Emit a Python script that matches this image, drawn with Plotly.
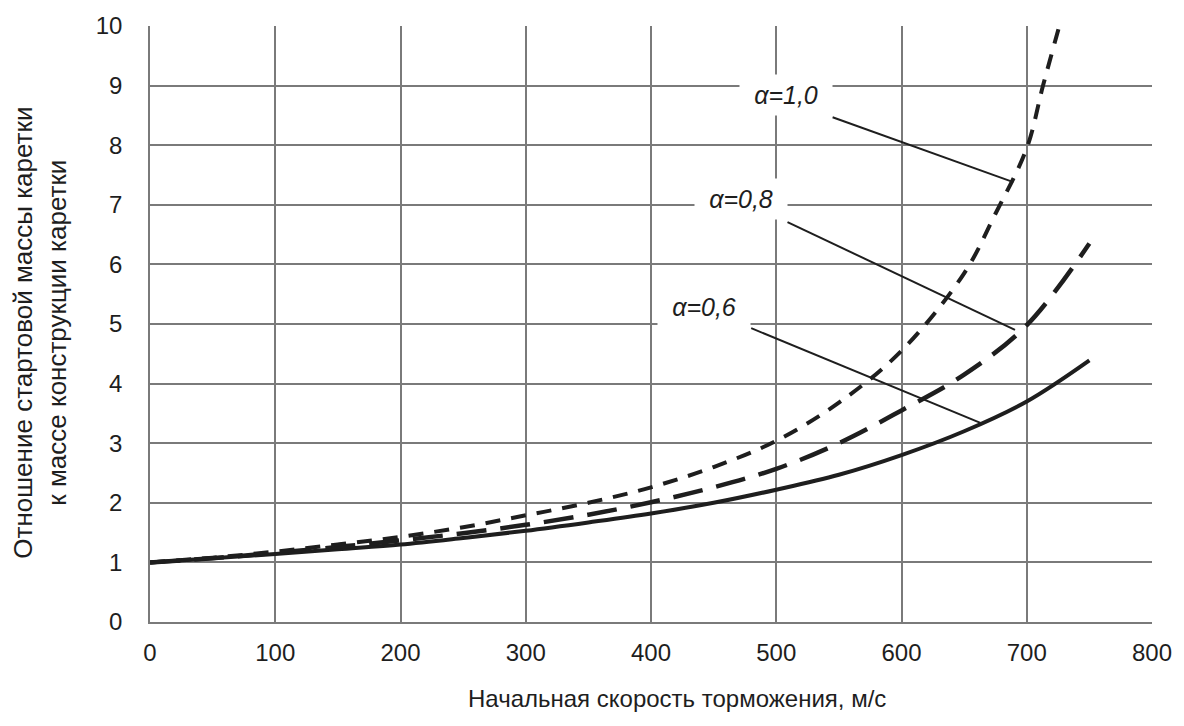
import plotly.graph_objects as go

# Initial braking speed, m/s
speed_06 = [0, 50, 100, 150, 200, 250, 300, 350, 400, 450, 500, 550, 600, 650, 700, 750]
ratio_06 = [1.0, 1.07, 1.14, 1.22, 1.30, 1.41, 1.53, 1.67, 1.82, 2.0, 2.22, 2.47, 2.80, 3.2, 3.70, 4.39]

speed_08 = [0, 50, 100, 150, 200, 250, 300, 350, 400, 450, 500, 550, 600, 650, 700, 750]
ratio_08 = [1.0, 1.07, 1.16, 1.26, 1.37, 1.49, 1.63, 1.80, 2.01, 2.26, 2.57, 3.0, 3.55, 4.15, 4.98, 6.35]

speed_10 = [0, 50, 100, 150, 200, 250, 300, 350, 400, 450, 500, 550, 600, 650, 675, 700, 713, 726]
ratio_10 = [1.0, 1.08, 1.18, 1.30, 1.43, 1.59, 1.79, 2.0, 2.26, 2.6, 3.04, 3.68, 4.55, 5.85, 6.85, 7.95, 9.0, 10.0]

x_ticks = [0, 100, 200, 300, 400, 500, 600, 700, 800]
y_ticks = [0, 1, 2, 3, 4, 5, 6, 7, 8, 9, 10]

# Curve labels: text, box centre, leader start, leader end
labels = ["α=1,0", "α=0,8", "α=0,6"]
label_x = [507.5, 471.5, 442.7]
label_y = [8.84, 7.09, 5.29]
leader_x0 = [545, 509, 480]
leader_y0 = [8.47, 6.71, 4.93]
leader_x1 = [689.3, 690.6, 663]
leader_y1 = [7.38, 4.90, 3.34]

FONT = "Liberation Sans, Arial, sans-serif"
INK = "#1e1e1e"
GRID = "#7a7a7a"

W, H = 1184, 726
L, R, T, B = 150, 20.5, 22.5, 103.5


def px_to_paper(px, py):
    return (px - L) / (W - L - R), (H - B - py) / (H - T - B)


fig = go.Figure()
fig.add_trace(go.Scatter(x=speed_06, y=ratio_06, mode="lines", line_shape="spline",
                         line=dict(color=INK, width=4)))
fig.add_trace(go.Scatter(x=speed_08, y=ratio_08, mode="lines", line_shape="spline",
                         line=dict(color=INK, width=4.5, dash="30px,14px")))
fig.add_trace(go.Scatter(x=speed_10, y=ratio_10, mode="lines", line_shape="spline",
                         line=dict(color=INK, width=4, dash="15px,11px")))

for i, txt in enumerate(labels):
    fig.add_shape(type="line", x0=leader_x0[i], y0=leader_y0[i], x1=leader_x1[i], y1=leader_y1[i],
                  xref="x", yref="y", line=dict(color=INK, width=2))
    fig.add_annotation(x=label_x[i], y=label_y[i], xref="x", yref="y", text=f"<i>{txt}</i>",
                       showarrow=False, bgcolor="white", width=88, height=36, borderpad=2,
                       xanchor="center", yanchor="middle",
                       font=dict(family=FONT, size=25, color=INK))

tx, ty = px_to_paper(683, 700)
fig.add_annotation(x=tx, y=ty, xref="paper", yref="paper", text="Начальная скорость торможения, м/с",
                   showarrow=False, xanchor="center", yanchor="middle",
                   font=dict(family=FONT, size=24, color=INK))
tx, ty = px_to_paper(39, 331)
fig.add_annotation(x=tx, y=ty, xref="paper", yref="paper",
                   text="Отношение стартовой массы каретки<br>к массе конструкции каретки",
                   textangle=-90, showarrow=False, xanchor="center", yanchor="middle",
                   font=dict(family=FONT, size=26, color=INK))

fig.update_xaxes(range=[0, 800], tickvals=x_ticks, showgrid=True, gridcolor=GRID, gridwidth=1.5,
                 showline=True, linecolor=GRID, linewidth=1.5, zeroline=False, ticks="",
                 ticklabelstandoff=8, tickfont=dict(family=FONT, size=24, color=INK))
fig.update_yaxes(range=[0, 10], tickvals=y_ticks, showgrid=True, gridcolor=GRID, gridwidth=1.5,
                 showline=True, linecolor=GRID, linewidth=1.5, zeroline=False, ticks="",
                 ticklabelstandoff=21, tickfont=dict(family=FONT, size=24, color=INK))

fig.update_layout(width=W, height=H, margin=dict(l=L, r=R, t=T, b=B), showlegend=False,
                  plot_bgcolor="white", paper_bgcolor="white")

fig.write_html("out.html")
